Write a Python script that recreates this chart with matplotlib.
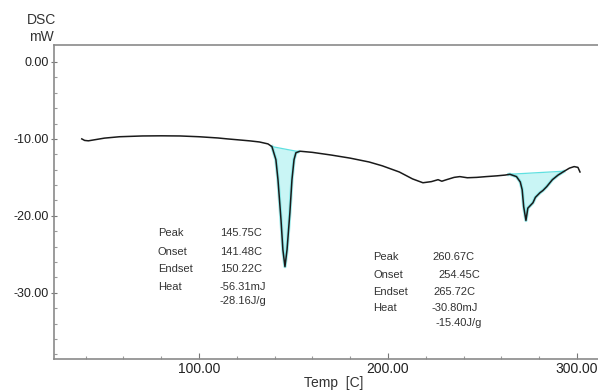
import matplotlib
matplotlib.use("Agg")
import matplotlib.pyplot as plt
import numpy as np

plt.rcParams['font.family'] = ['Liberation Sans', 'DejaVu Sans']

# DSC curve (temp in C, heat flow in mW)
temp = [38.0, 39.5, 41.5, 50, 58, 70, 80, 90, 100, 110, 115, 122, 127, 132,
        136.5, 138.6, 140.7, 141.8, 143.4, 144.4, 145.5, 146.6, 148.1, 149.2,
        150.3, 151.3, 153.4, 160, 170, 180, 190, 197, 206, 213, 218.5, 223,
        226.5, 228.5, 231, 235, 238, 242, 247, 252, 257.7, 262, 264.5, 268,
        270, 271, 271.8, 273, 274, 276.7, 278, 280.4, 282, 284, 287, 290,
        292.6, 296, 298.5, 300.5, 301.6]
dsc = [-10.0, -10.2, -10.25, -9.9, -9.72, -9.62, -9.6, -9.62, -9.72, -9.88,
       -10.0, -10.15, -10.26, -10.4, -10.65, -11.0, -12.7, -15.3, -20.5,
       -24.4, -26.6, -24.4, -19.6, -15.3, -12.7, -11.8, -11.6, -11.75, -12.1,
       -12.5, -13.0, -13.5, -14.3, -15.2, -15.7, -15.55, -15.3, -15.5, -15.3,
       -15.0, -14.9, -15.05, -15.0, -14.9, -14.8, -14.7, -14.6, -14.9, -15.6,
       -16.6, -18.8, -20.6, -19.0, -18.3, -17.6, -17.0, -16.7, -16.2, -15.3,
       -14.7, -14.3, -13.8, -13.6, -13.7, -14.3]

# integration baselines (start, end) for the two peaks
base1_t = [138.6, 152.5]
base1_y = [-11.0, -11.65]
base2_t = [264.0, 293.0]
base2_y = [-14.6, -14.2]

labels = ["Peak", "Onset", "Endset", "Heat"]
peak1_vals = ["145.75C", "141.48C", "150.22C", "-56.31mJ", "-28.16J/g"]
peak2_vals = ["260.67C", "254.45C", "265.72C", "-30.80mJ", "-15.40J/g"]

W, H = 598, 390
fig = plt.figure(figsize=(W / 100, H / 100), dpi=100)
ax = fig.add_axes([54 / W, 1 - 359 / H, (604 - 54) / W, (359 - 45) / H])

t = np.array(temp)
d = np.array(dsc)
for bt, by in [(base1_t, base1_y), (base2_t, base2_y)]:
    m = (t >= bt[0]) & (t <= bt[1])
    tt = np.concatenate([[bt[0]], t[m], [bt[1]]])
    dd = np.interp(tt, t, d)
    bb = np.interp(tt, bt, by)
    ax.fill_between(tt, dd, bb, color='#c9f5f5', lw=0)
    ax.plot(bt, by, color='#5fe0e0', lw=0.9)
    ax.plot(tt, dd, color='#5fe0e0', lw=2.4, alpha=0.6)

ax.plot(t, d, color='#1a1a1a', lw=1.1)

ax.set_xlim(23.3, 314.3)
ax.set_ylim(-38.6, 2.2)
ax.set_xticks([100, 200, 300])
ax.set_xticks(np.arange(40, 320, 20), minor=True)
ax.set_yticks([0, -10, -20, -30])
ax.set_yticks(np.arange(-38, 2, 2), minor=True)
ax.set_xticklabels(["%.2f" % v for v in [100, 200, 300]])
ax.set_yticklabels(["%.2f" % v for v in [0, -10, -20, -30]])

for s in ax.spines.values():
    s.set_color('#8a8a8a')
    s.set_linewidth(1.2)
ax.spines['right'].set_visible(False)

ax.tick_params(axis='x', which='major', direction='in', length=4, width=0.8,
               color='#777777', labelsize=10, pad=2, labelcolor='#222222')
ax.tick_params(axis='x', which='minor', direction='in', length=2, width=0.8,
               color='#999999')
ax.tick_params(axis='y', which='major', direction='inout', length=5, width=0.8,
               color='#777777', labelsize=9, pad=1, labelcolor='#222222')
ax.tick_params(axis='y', which='minor', direction='in', length=2.5, width=0.8,
               color='#999999')

fig.text(41 / W, 1 - 20 / H, "DSC", ha='center', va='center', fontsize=10,
         color='#333333')
fig.text(41 / W, 1 - 37 / H, "mW", ha='center', va='center', fontsize=10,
         color='#333333')
fig.text(334 / W, 1 - 383 / H, "Temp  [C]", ha='center', va='center',
         fontsize=10, color='#333333')

def draw_block(xl, label_rows, value_pos, vals):
    for lab, y in zip(labels, label_rows):
        fig.text(xl / W, 1 - y / H, lab, ha='left', va='center', fontsize=8,
                 color='#333333')
    for v, (x, y) in zip(vals, value_pos):
        fig.text(x / W, 1 - y / H, v, ha='left', va='center', fontsize=8,
                 color='#333333')

draw_block(158, [233, 252, 269, 287],
           [(220, 233), (220, 252), (220, 269), (220, 287), (220, 301)],
           peak1_vals)
draw_block(373, [257, 275, 292, 308],
           [(432, 257), (438, 275), (433, 292), (432, 308), (435, 323)],
           peak2_vals)

fig.savefig("out.png", dpi=100)
